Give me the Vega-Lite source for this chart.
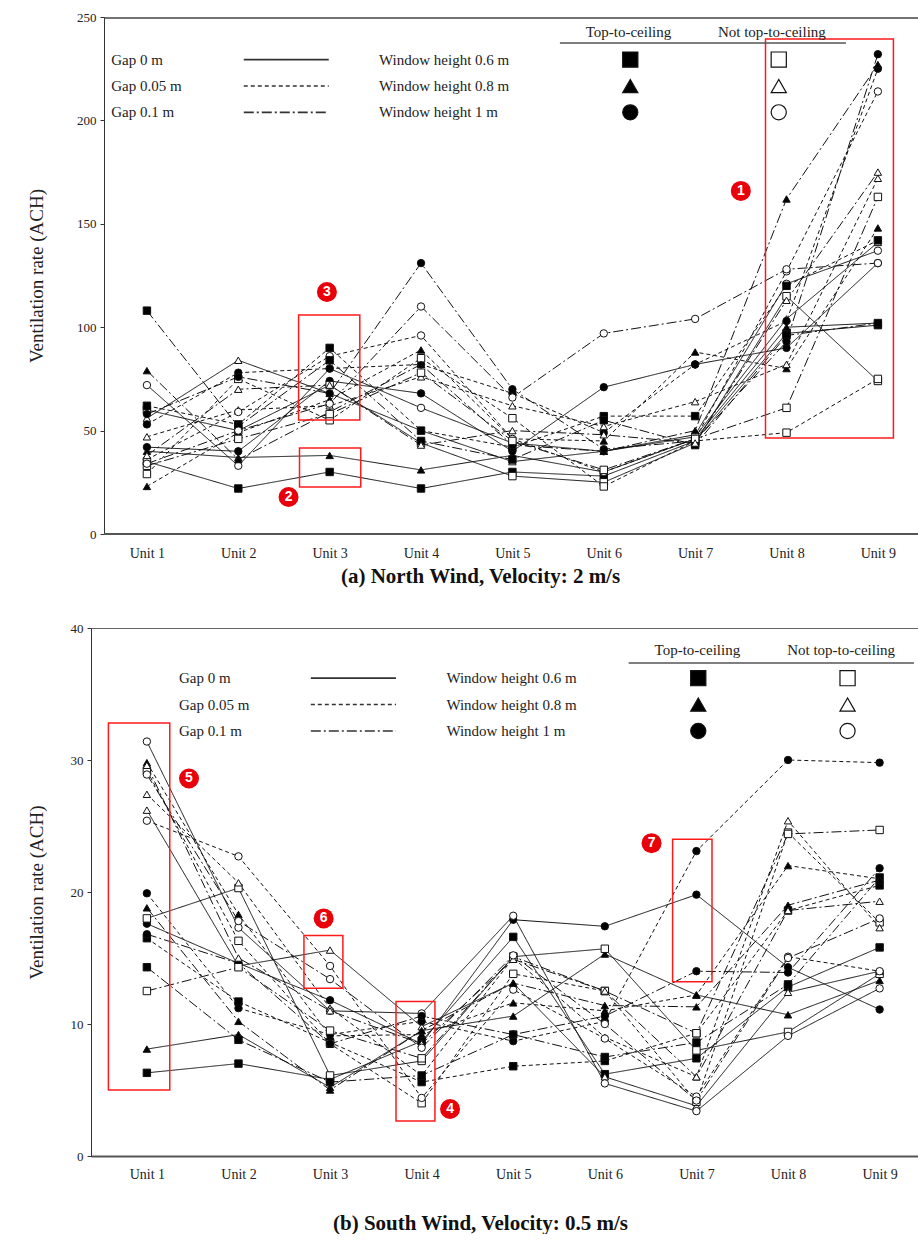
{
  "$schema": "https://vega.github.io/schema/vega-lite/v6.json",
  "background": "white",
  "padding": {"left": 26, "top": 11, "right": 0, "bottom": 0},
  "columns": 1,
  "spacing": 35,
  "config": {
    "view": {"stroke": "#666", "strokeWidth": 1},
    "font": "Liberation Serif",
    "legend": {"disable": true},
    "axisY": {"labelFont": "Liberation Serif", "labelFontSize": 13, "labelColor": "#222", "tickColor": "#333", "tickSize": 4, "labelPadding": 4, "titleFont": "Liberation Serif", "titleFontSize": 19, "titleFontWeight": "normal", "titleColor": "#222", "grid": false, "domainColor": "#333"},
    "axisX": {"labelFont": "Liberation Serif", "labelFontSize": 14, "labelColor": "#222", "ticks": false, "grid": false, "domainColor": "#555", "domainWidth": 2, "labelFlush": false, "titleFont": "Liberation Serif", "titleFontSize": 21, "titleFontWeight": "bold", "titleColor": "#111", "titleX": 389}
  },
  "datasets": {
    "series": [
      {"s": 1, "g": "0", "w": "0.6", "t": "T"}, {"s": 2, "g": "0", "w": "0.8", "t": "T"}, {"s": 3, "g": "0", "w": "1", "t": "T"},
      {"s": 4, "g": "0", "w": "0.6", "t": "N"}, {"s": 5, "g": "0", "w": "0.8", "t": "N"}, {"s": 6, "g": "0", "w": "1", "t": "N"},
      {"s": 7, "g": "0.05", "w": "0.6", "t": "T"}, {"s": 8, "g": "0.05", "w": "0.8", "t": "T"}, {"s": 9, "g": "0.05", "w": "1", "t": "T"},
      {"s": 10, "g": "0.05", "w": "0.6", "t": "N"}, {"s": 11, "g": "0.05", "w": "0.8", "t": "N"}, {"s": 12, "g": "0.05", "w": "1", "t": "N"},
      {"s": 13, "g": "0.1", "w": "0.6", "t": "T"}, {"s": 14, "g": "0.1", "w": "0.8", "t": "T"}, {"s": 15, "g": "0.1", "w": "1", "t": "T"},
      {"s": 16, "g": "0.1", "w": "0.6", "t": "N"}, {"s": 17, "g": "0.1", "w": "0.8", "t": "N"}, {"s": 18, "g": "0.1", "w": "1", "t": "N"}
    ],
    "north": [
      {"s":1,"u":1,"v":35},{"s":1,"u":2,"v":22},{"s":1,"u":3,"v":30},{"s":1,"u":4,"v":22},{"s":1,"u":5,"v":30},{"s":1,"u":6,"v":28},{"s":1,"u":7,"v":45},{"s":1,"u":8,"v":97},{"s":1,"u":9,"v":101},
      {"s":2,"u":1,"v":40},{"s":2,"u":2,"v":37},{"s":2,"u":3,"v":38},{"s":2,"u":4,"v":31},{"s":2,"u":5,"v":38},{"s":2,"u":6,"v":30},{"s":2,"u":7,"v":46},{"s":2,"u":8,"v":100},{"s":2,"u":9,"v":102},
      {"s":3,"u":1,"v":42},{"s":3,"u":2,"v":40},{"s":3,"u":3,"v":74},{"s":3,"u":4,"v":68},{"s":3,"u":5,"v":40},{"s":3,"u":6,"v":71},{"s":3,"u":7,"v":82},{"s":3,"u":8,"v":90},{"s":3,"u":9,"v":131},
      {"s":4,"u":1,"v":60},{"s":4,"u":2,"v":50},{"s":4,"u":3,"v":72},{"s":4,"u":4,"v":44},{"s":4,"u":5,"v":28},{"s":4,"u":6,"v":25},{"s":4,"u":7,"v":44},{"s":4,"u":8,"v":115},{"s":4,"u":9,"v":74},
      {"s":5,"u":1,"v":56},{"s":5,"u":2,"v":84},{"s":5,"u":3,"v":68},{"s":5,"u":4,"v":50},{"s":5,"u":5,"v":35},{"s":5,"u":6,"v":40},{"s":5,"u":7,"v":47},{"s":5,"u":8,"v":104},{"s":5,"u":9,"v":141},
      {"s":6,"u":1,"v":72},{"s":6,"u":2,"v":33},{"s":6,"u":3,"v":80},{"s":6,"u":4,"v":61},{"s":6,"u":5,"v":44},{"s":6,"u":6,"v":40},{"s":6,"u":7,"v":48},{"s":6,"u":8,"v":121},{"s":6,"u":9,"v":137},
      {"s":7,"u":1,"v":62},{"s":7,"u":2,"v":53},{"s":7,"u":3,"v":90},{"s":7,"u":4,"v":50},{"s":7,"u":5,"v":42},{"s":7,"u":6,"v":57},{"s":7,"u":7,"v":57},{"s":7,"u":8,"v":120},{"s":7,"u":9,"v":142},
      {"s":8,"u":1,"v":23},{"s":8,"u":2,"v":49},{"s":8,"u":3,"v":65},{"s":8,"u":4,"v":89},{"s":8,"u":5,"v":46},{"s":8,"u":6,"v":45},{"s":8,"u":7,"v":88},{"s":8,"u":8,"v":80},{"s":8,"u":9,"v":148},
      {"s":9,"u":1,"v":53},{"s":9,"u":2,"v":78},{"s":9,"u":3,"v":80},{"s":9,"u":4,"v":82},{"s":9,"u":5,"v":68},{"s":9,"u":6,"v":49},{"s":9,"u":7,"v":82},{"s":9,"u":8,"v":103},{"s":9,"u":9,"v":225},
      {"s":10,"u":1,"v":29},{"s":10,"u":2,"v":75},{"s":10,"u":3,"v":55},{"s":10,"u":4,"v":85},{"s":10,"u":5,"v":56},{"s":10,"u":6,"v":23},{"s":10,"u":7,"v":45},{"s":10,"u":8,"v":49},{"s":10,"u":9,"v":75},
      {"s":11,"u":1,"v":47},{"s":11,"u":2,"v":60},{"s":11,"u":3,"v":62},{"s":11,"u":4,"v":76},{"s":11,"u":5,"v":62},{"s":11,"u":6,"v":52},{"s":11,"u":7,"v":64},{"s":11,"u":8,"v":82},{"s":11,"u":9,"v":172},
      {"s":12,"u":1,"v":36},{"s":12,"u":2,"v":59},{"s":12,"u":3,"v":86},{"s":12,"u":4,"v":96},{"s":12,"u":5,"v":46},{"s":12,"u":6,"v":30},{"s":12,"u":7,"v":46},{"s":12,"u":8,"v":127},{"s":12,"u":9,"v":214},
      {"s":13,"u":1,"v":108},{"s":13,"u":2,"v":52},{"s":13,"u":3,"v":84},{"s":13,"u":4,"v":45},{"s":13,"u":5,"v":36},{"s":13,"u":6,"v":55},{"s":13,"u":7,"v":43},{"s":13,"u":8,"v":96},{"s":13,"u":9,"v":102},
      {"s":14,"u":1,"v":79},{"s":14,"u":2,"v":36},{"s":14,"u":3,"v":59},{"s":14,"u":4,"v":82},{"s":14,"u":5,"v":43},{"s":14,"u":6,"v":40},{"s":14,"u":7,"v":50},{"s":14,"u":8,"v":162},{"s":14,"u":9,"v":227},
      {"s":15,"u":1,"v":58},{"s":15,"u":2,"v":76},{"s":15,"u":3,"v":68},{"s":15,"u":4,"v":131},{"s":15,"u":5,"v":70},{"s":15,"u":6,"v":41},{"s":15,"u":7,"v":45},{"s":15,"u":8,"v":93},{"s":15,"u":9,"v":232},
      {"s":16,"u":1,"v":33},{"s":16,"u":2,"v":46},{"s":16,"u":3,"v":58},{"s":16,"u":4,"v":78},{"s":16,"u":5,"v":45},{"s":16,"u":6,"v":31},{"s":16,"u":7,"v":46},{"s":16,"u":8,"v":61},{"s":16,"u":9,"v":163},
      {"s":17,"u":1,"v":38},{"s":17,"u":2,"v":70},{"s":17,"u":3,"v":72},{"s":17,"u":4,"v":43},{"s":17,"u":5,"v":50},{"s":17,"u":6,"v":48},{"s":17,"u":7,"v":44},{"s":17,"u":8,"v":113},{"s":17,"u":9,"v":175},
      {"s":18,"u":1,"v":34},{"s":18,"u":2,"v":50},{"s":18,"u":3,"v":63},{"s":18,"u":4,"v":110},{"s":18,"u":5,"v":66},{"s":18,"u":6,"v":97},{"s":18,"u":7,"v":104},{"s":18,"u":8,"v":128},{"s":18,"u":9,"v":131}
    ],
    "south": [
      {"s":1,"u":1,"v":6.3},{"s":1,"u":2,"v":7.0},{"s":1,"u":3,"v":5.8},{"s":1,"u":4,"v":8.7},{"s":1,"u":5,"v":16.6},{"s":1,"u":6,"v":6.2},{"s":1,"u":7,"v":7.4},{"s":1,"u":8,"v":12.8},{"s":1,"u":9,"v":15.8},
      {"s":2,"u":1,"v":8.1},{"s":2,"u":2,"v":9.2},{"s":2,"u":3,"v":5.2},{"s":2,"u":4,"v":9.5},{"s":2,"u":5,"v":10.6},{"s":2,"u":6,"v":15.3},{"s":2,"u":7,"v":12.2},{"s":2,"u":8,"v":10.7},{"s":2,"u":9,"v":13.3},
      {"s":3,"u":1,"v":17.6},{"s":3,"u":2,"v":14.6},{"s":3,"u":3,"v":11.8},{"s":3,"u":4,"v":8.5},{"s":3,"u":5,"v":17.9},{"s":3,"u":6,"v":17.4},{"s":3,"u":7,"v":19.8},{"s":3,"u":8,"v":14.3},{"s":3,"u":9,"v":11.1},
      {"s":4,"u":1,"v":18.0},{"s":4,"u":2,"v":20.3},{"s":4,"u":3,"v":6.1},{"s":4,"u":4,"v":7.2},{"s":4,"u":5,"v":15.1},{"s":4,"u":6,"v":15.7},{"s":4,"u":7,"v":8.0},{"s":4,"u":8,"v":9.4},{"s":4,"u":9,"v":13.8},
      {"s":5,"u":1,"v":26.2},{"s":5,"u":2,"v":14.4},{"s":5,"u":3,"v":15.6},{"s":5,"u":4,"v":9.8},{"s":5,"u":5,"v":13.1},{"s":5,"u":6,"v":6.0},{"s":5,"u":7,"v":3.8},{"s":5,"u":8,"v":12.4},{"s":5,"u":9,"v":14.0},
      {"s":6,"u":1,"v":31.4},{"s":6,"u":2,"v":17.3},{"s":6,"u":3,"v":11.0},{"s":6,"u":4,"v":10.8},{"s":6,"u":5,"v":18.2},{"s":6,"u":6,"v":5.5},{"s":6,"u":7,"v":3.4},{"s":6,"u":8,"v":9.1},{"s":6,"u":9,"v":12.7},
      {"s":7,"u":1,"v":16.5},{"s":7,"u":2,"v":11.7},{"s":7,"u":3,"v":8.6},{"s":7,"u":4,"v":5.6},{"s":7,"u":5,"v":6.8},{"s":7,"u":6,"v":7.2},{"s":7,"u":7,"v":9.3},{"s":7,"u":8,"v":18.6},{"s":7,"u":9,"v":20.5},
      {"s":8,"u":1,"v":29.8},{"s":8,"u":2,"v":18.3},{"s":8,"u":3,"v":9.1},{"s":8,"u":4,"v":9.2},{"s":8,"u":5,"v":11.6},{"s":8,"u":6,"v":11.0},{"s":8,"u":7,"v":12.2},{"s":8,"u":8,"v":22.0},{"s":8,"u":9,"v":21.0},
      {"s":9,"u":1,"v":19.9},{"s":9,"u":2,"v":11.2},{"s":9,"u":3,"v":9.2},{"s":9,"u":4,"v":10.2},{"s":9,"u":5,"v":8.7},{"s":9,"u":6,"v":10.2},{"s":9,"u":7,"v":23.1},{"s":9,"u":8,"v":30.0},{"s":9,"u":9,"v":29.8},
      {"s":10,"u":1,"v":29.2},{"s":10,"u":2,"v":16.3},{"s":10,"u":3,"v":8.5},{"s":10,"u":4,"v":4.0},{"s":10,"u":5,"v":13.8},{"s":10,"u":6,"v":12.5},{"s":10,"u":7,"v":4.1},{"s":10,"u":8,"v":24.5},{"s":10,"u":9,"v":17.7},
      {"s":11,"u":1,"v":27.4},{"s":11,"u":2,"v":20.7},{"s":11,"u":3,"v":11.2},{"s":11,"u":4,"v":6.1},{"s":11,"u":5,"v":15.0},{"s":11,"u":6,"v":9.0},{"s":11,"u":7,"v":6.0},{"s":11,"u":8,"v":25.4},{"s":11,"u":9,"v":17.3},
      {"s":12,"u":1,"v":25.4},{"s":12,"u":2,"v":22.7},{"s":12,"u":3,"v":14.4},{"s":12,"u":4,"v":4.4},{"s":12,"u":5,"v":12.6},{"s":12,"u":6,"v":8.9},{"s":12,"u":7,"v":4.5},{"s":12,"u":8,"v":15.1},{"s":12,"u":9,"v":14.0},
      {"s":13,"u":1,"v":14.3},{"s":13,"u":2,"v":8.8},{"s":13,"u":3,"v":5.6},{"s":13,"u":4,"v":6.1},{"s":13,"u":5,"v":9.2},{"s":13,"u":6,"v":7.5},{"s":13,"u":7,"v":8.6},{"s":13,"u":8,"v":13.0},{"s":13,"u":9,"v":21.1},
      {"s":14,"u":1,"v":18.8},{"s":14,"u":2,"v":10.2},{"s":14,"u":3,"v":5.0},{"s":14,"u":4,"v":9.5},{"s":14,"u":5,"v":13.1},{"s":14,"u":6,"v":11.4},{"s":14,"u":7,"v":11.3},{"s":14,"u":8,"v":19.0},{"s":14,"u":9,"v":20.9},
      {"s":15,"u":1,"v":16.8},{"s":15,"u":2,"v":14.6},{"s":15,"u":3,"v":8.5},{"s":15,"u":4,"v":10.6},{"s":15,"u":5,"v":9.2},{"s":15,"u":6,"v":10.6},{"s":15,"u":7,"v":14.0},{"s":15,"u":8,"v":13.9},{"s":15,"u":9,"v":21.8},
      {"s":16,"u":1,"v":12.5},{"s":16,"u":2,"v":14.3},{"s":16,"u":3,"v":9.5},{"s":16,"u":4,"v":7.4},{"s":16,"u":5,"v":15.1},{"s":16,"u":6,"v":12.5},{"s":16,"u":7,"v":9.3},{"s":16,"u":8,"v":24.4},{"s":16,"u":9,"v":24.7},
      {"s":17,"u":1,"v":29.6},{"s":17,"u":2,"v":15.0},{"s":17,"u":3,"v":11.0},{"s":17,"u":4,"v":8.5},{"s":17,"u":5,"v":14.9},{"s":17,"u":6,"v":12.5},{"s":17,"u":7,"v":6.0},{"s":17,"u":8,"v":18.6},{"s":17,"u":9,"v":19.3},
      {"s":18,"u":1,"v":28.9},{"s":18,"u":2,"v":17.8},{"s":18,"u":3,"v":13.4},{"s":18,"u":4,"v":8.2},{"s":18,"u":5,"v":15.2},{"s":18,"u":6,"v":10.0},{"s":18,"u":7,"v":4.2},{"s":18,"u":8,"v":15.0},{"s":18,"u":9,"v":18.0}
    ]
  },
  "concat": [
    {
      "width": 828,
      "height": 517,
      "view": {"stroke": null},
      "layer": [
        {
          "data": {"name": "north"},
          "transform": [{"lookup": "s", "from": {"data": {"name": "series"}, "key": "s", "fields": ["g", "w", "t"]}}],
          "mark": {"type": "line", "color": "#111", "strokeWidth": 1},
          "encoding": {
            "x": {"field": "u", "type": "quantitative", "scale": {"domain": [0.388, 9.45], "nice": false, "zero": false}, "axis": {"values": [1,2,3,4,5,6,7,8,9], "labelExpr": "'Unit ' + datum.value", "title": "(a) North Wind, Velocity: 2 m/s", "labelPadding": 12, "titlePadding": 5, "domain": false}},
            "y": {"field": "v", "type": "quantitative", "scale": {"domain": [0, 250], "nice": false}, "axis": {"values": [0,50,100,150,200,250], "title": "Ventilation rate (ACH)", "titlePadding": 30, "offset": -13}},
            "detail": {"field": "s"},
            "strokeDash": {"field": "g", "type": "nominal", "scale": {"domain": ["0", "0.05", "0.1"], "range": [[1, 0], [4, 3], [10, 3, 2, 3]]}}
          }
        },
        {
          "data": {"name": "north"},
          "transform": [{"lookup": "s", "from": {"data": {"name": "series"}, "key": "s", "fields": ["g", "w", "t"]}}],
          "mark": {"type": "point", "filled": true, "stroke": "#111", "strokeWidth": 1, "size": 55, "opacity": 1},
          "encoding": {
            "x": {"field": "u", "type": "quantitative"},
            "y": {"field": "v", "type": "quantitative"},
            "shape": {"field": "w", "type": "nominal", "scale": {"domain": ["0.6", "0.8", "1"], "range": ["square", "triangle-up", "circle"]}},
            "fill": {"field": "t", "type": "nominal", "scale": {"domain": ["T", "N"], "range": ["#000000", "#ffffff"]}}
          }
        },
        {
          "data": {"values": [{"fx": 0.53, "fx2": 9.45, "fy": 249.5}]},
          "mark": {"type": "rule", "color": "#444", "strokeWidth": 1.5},
          "encoding": {"x": {"field": "fx", "type": "quantitative"}, "x2": {"field": "fx2"}, "y": {"field": "fy", "type": "quantitative"}}
        },
        {
          "data": {"values": [{"fx": 0.53, "fx2": 9.45, "fy": 0}]},
          "mark": {"type": "rule", "color": "#555", "strokeWidth": 2},
          "encoding": {"x": {"field": "fx", "type": "quantitative"}, "x2": {"field": "fx2"}, "y": {"field": "fy", "type": "quantitative"}}
        },
        {"mark": {"type": "rule", "color": "#1f7bd6", "strokeWidth": 3, "strokeDash": [3, 3]}, "encoding": {"x": {"datum": 0.53}, "x2": {"datum": 9.45}, "y": {"datum": 42.5}}},
        {"mark": {"type": "rule", "color": "#ff1f1f", "strokeWidth": 3, "strokeDash": [3, 3]}, "encoding": {"x": {"datum": 0.53}, "x2": {"datum": 9.45}, "y": {"datum": 8.9}}},
        {
          "data": {"values": [{"x1": 7.77, "x2": 9.17, "y1": 46.4, "y2": 239.4}, {"x1": 2.66, "x2": 3.33, "y1": 55.1, "y2": 105.9}, {"x1": 2.67, "x2": 3.34, "y1": 22.7, "y2": 41.6}]},
          "mark": {"type": "rect", "fill": "transparent", "stroke": "#ff1a1a", "strokeWidth": 1.5},
          "encoding": {"x": {"field": "x1", "type": "quantitative"}, "x2": {"field": "x2"}, "y": {"field": "y1", "type": "quantitative"}, "y2": {"field": "y2"}}
        },
        {
          "data": {"values": [{"n": "1", "x": 7.5, "y": 165.9}, {"n": "3", "x": 2.97, "y": 117}, {"n": "2", "x": 2.55, "y": 17.9}]},
          "layer": [
            {"mark": {"type": "point", "shape": "circle", "filled": true, "color": "#e8000b", "size": 400, "opacity": 1}, "encoding": {"x": {"field": "x", "type": "quantitative"}, "y": {"field": "y", "type": "quantitative"}}},
            {"mark": {"type": "text", "color": "white", "font": "Liberation Sans", "fontWeight": "bold", "fontSize": 14, "baseline": "middle", "align": "center"}, "encoding": {"x": {"field": "x", "type": "quantitative"}, "y": {"field": "y", "type": "quantitative"}, "text": {"field": "n"}}}
          ]
        },
        {
          "data": {"values": [{"label": "Gap 0 m", "x": 0.61, "y": 229.4}, {"label": "Gap 0.05 m", "x": 0.61, "y": 216.6}, {"label": "Gap 0.1 m", "x": 0.61, "y": 203.9}, {"label": "Window height 0.6 m", "x": 3.54, "y": 229.4}, {"label": "Window height 0.8 m", "x": 3.54, "y": 216.6}, {"label": "Window height 1 m", "x": 3.54, "y": 203.9}]},
          "mark": {"type": "text", "align": "left", "baseline": "middle", "font": "Liberation Serif", "fontSize": 15, "color": "#222"},
          "encoding": {"x": {"field": "x", "type": "quantitative"}, "y": {"field": "y", "type": "quantitative"}, "text": {"field": "label"}}
        },
        {
          "data": {"values": [{"label": "Top-to-ceiling", "x": 6.27, "y": 242.7}, {"label": "Not top-to-ceiling", "x": 7.84, "y": 242.7}]},
          "mark": {"type": "text", "align": "center", "baseline": "middle", "font": "Liberation Serif", "fontSize": 15, "color": "#222"},
          "encoding": {"x": {"field": "x", "type": "quantitative"}, "y": {"field": "y", "type": "quantitative"}, "text": {"field": "label"}}
        },
        {
          "data": {"values": [{"x": 5.52, "x2": 8.65, "y": 237.4}]},
          "mark": {"type": "rule", "color": "#555", "strokeWidth": 1.5},
          "encoding": {"x": {"field": "x", "type": "quantitative"}, "x2": {"field": "x2"}, "y": {"field": "y", "type": "quantitative"}}
        },
        {
          "data": {"values": [{"g": "0", "x": 2.06, "x2": 2.99, "y": 229.4}, {"g": "0.05", "x": 2.06, "x2": 2.99, "y": 216.6}, {"g": "0.1", "x": 2.06, "x2": 2.99, "y": 203.9}]},
          "mark": {"type": "rule", "color": "#333", "strokeWidth": 1.6},
          "encoding": {"x": {"field": "x", "type": "quantitative"}, "x2": {"field": "x2"}, "y": {"field": "y", "type": "quantitative"}, "strokeDash": {"field": "g", "type": "nominal"}}
        },
        {
          "data": {"values": [{"w": "0.6", "t": "T", "x": 6.29, "y": 229.4}, {"w": "0.8", "t": "T", "x": 6.29, "y": 216.6}, {"w": "1", "t": "T", "x": 6.29, "y": 203.9}, {"w": "0.6", "t": "N", "x": 7.915, "y": 229.4}, {"w": "0.8", "t": "N", "x": 7.915, "y": 216.6}, {"w": "1", "t": "N", "x": 7.915, "y": 203.9}]},
          "mark": {"type": "point", "filled": true, "stroke": "#111", "strokeWidth": 1.2, "size": 230, "opacity": 1},
          "encoding": {"x": {"field": "x", "type": "quantitative"}, "y": {"field": "y", "type": "quantitative"}, "shape": {"field": "w", "type": "nominal"}, "fill": {"field": "t", "type": "nominal"}}
        }
      ]
    },
    {
      "width": 828,
      "height": 528,
      "layer": [
        {
          "data": {"name": "south"},
          "transform": [{"lookup": "s", "from": {"data": {"name": "series"}, "key": "s", "fields": ["g", "w", "t"]}}],
          "mark": {"type": "line", "color": "#111", "strokeWidth": 1},
          "encoding": {
            "x": {"field": "u", "type": "quantitative", "scale": {"domain": [0.39, 9.43], "nice": false, "zero": false}, "axis": {"values": [1,2,3,4,5,6,7,8,9], "labelExpr": "'Unit ' + datum.value", "title": "(b) South Wind, Velocity: 0.5 m/s", "labelPadding": 11, "titlePadding": 31}},
            "y": {"field": "v", "type": "quantitative", "scale": {"domain": [0, 40], "nice": false}, "axis": {"values": [0,10,20,30,40], "title": "Ventilation rate (ACH)", "titlePadding": 24}},
            "detail": {"field": "s"},
            "strokeDash": {"field": "g", "type": "nominal", "scale": {"domain": ["0", "0.05", "0.1"], "range": [[1, 0], [4, 3], [10, 3, 2, 3]]}}
          }
        },
        {
          "data": {"name": "south"},
          "transform": [{"lookup": "s", "from": {"data": {"name": "series"}, "key": "s", "fields": ["g", "w", "t"]}}],
          "mark": {"type": "point", "filled": true, "stroke": "#111", "strokeWidth": 1, "size": 55, "opacity": 1},
          "encoding": {
            "x": {"field": "u", "type": "quantitative"},
            "y": {"field": "v", "type": "quantitative"},
            "shape": {"field": "w", "type": "nominal", "scale": {"domain": ["0.6", "0.8", "1"], "range": ["square", "triangle-up", "circle"]}},
            "fill": {"field": "t", "type": "nominal", "scale": {"domain": ["T", "N"], "range": ["#000000", "#ffffff"]}}
          }
        },
        {"mark": {"type": "rule", "color": "#ff1f1f", "strokeWidth": 3, "strokeDash": [3, 3]}, "encoding": {"y": {"datum": 12.2}}},
        {
          "data": {"values": [{"x1": 0.58, "x2": 1.25, "y1": 5.0, "y2": 32.8}, {"x1": 2.715, "x2": 3.14, "y1": 12.7, "y2": 16.7}, {"x1": 3.72, "x2": 4.145, "y1": 2.65, "y2": 11.7}, {"x1": 6.74, "x2": 7.17, "y1": 13.2, "y2": 24.0}]},
          "mark": {"type": "rect", "fill": "transparent", "stroke": "#ff1a1a", "strokeWidth": 1.5},
          "encoding": {"x": {"field": "x1", "type": "quantitative"}, "x2": {"field": "x2"}, "y": {"field": "y1", "type": "quantitative"}, "y2": {"field": "y2"}}
        },
        {
          "data": {"values": [{"n": "5", "x": 1.46, "y": 28.6}, {"n": "6", "x": 2.93, "y": 18.0}, {"n": "4", "x": 4.31, "y": 3.56}, {"n": "7", "x": 6.51, "y": 23.7}]},
          "layer": [
            {"mark": {"type": "point", "shape": "circle", "filled": true, "color": "#e8000b", "size": 400, "opacity": 1}, "encoding": {"x": {"field": "x", "type": "quantitative"}, "y": {"field": "y", "type": "quantitative"}}},
            {"mark": {"type": "text", "color": "white", "font": "Liberation Sans", "fontWeight": "bold", "fontSize": 14, "baseline": "middle", "align": "center"}, "encoding": {"x": {"field": "x", "type": "quantitative"}, "y": {"field": "y", "type": "quantitative"}, "text": {"field": "n"}}}
          ]
        },
        {
          "data": {"values": [{"label": "Gap 0 m", "x": 1.35, "y": 36.2}, {"label": "Gap 0.05 m", "x": 1.35, "y": 34.2}, {"label": "Gap 0.1 m", "x": 1.35, "y": 32.2}, {"label": "Window height 0.6 m", "x": 4.27, "y": 36.2}, {"label": "Window height 0.8 m", "x": 4.27, "y": 34.2}, {"label": "Window height 1 m", "x": 4.27, "y": 32.2}]},
          "mark": {"type": "text", "align": "left", "baseline": "middle", "font": "Liberation Serif", "fontSize": 15, "color": "#222"},
          "encoding": {"x": {"field": "x", "type": "quantitative"}, "y": {"field": "y", "type": "quantitative"}, "text": {"field": "label"}}
        },
        {
          "data": {"values": [{"label": "Top-to-ceiling", "x": 7.01, "y": 38.3}, {"label": "Not top-to-ceiling", "x": 8.58, "y": 38.3}]},
          "mark": {"type": "text", "align": "center", "baseline": "middle", "font": "Liberation Serif", "fontSize": 15, "color": "#222"},
          "encoding": {"x": {"field": "x", "type": "quantitative"}, "y": {"field": "y", "type": "quantitative"}, "text": {"field": "label"}}
        },
        {
          "data": {"values": [{"x": 6.26, "x2": 9.375, "y": 37.35}]},
          "mark": {"type": "rule", "color": "#555", "strokeWidth": 1.5},
          "encoding": {"x": {"field": "x", "type": "quantitative"}, "x2": {"field": "x2"}, "y": {"field": "y", "type": "quantitative"}}
        },
        {
          "data": {"values": [{"g": "0", "x": 2.79, "x2": 3.72, "y": 36.2}, {"g": "0.05", "x": 2.79, "x2": 3.72, "y": 34.2}, {"g": "0.1", "x": 2.79, "x2": 3.72, "y": 32.2}]},
          "mark": {"type": "rule", "color": "#333", "strokeWidth": 1.6},
          "encoding": {"x": {"field": "x", "type": "quantitative"}, "x2": {"field": "x2"}, "y": {"field": "y", "type": "quantitative"}, "strokeDash": {"field": "g", "type": "nominal"}}
        },
        {
          "data": {"values": [{"w": "0.6", "t": "T", "x": 7.02, "y": 36.2}, {"w": "0.8", "t": "T", "x": 7.02, "y": 34.2}, {"w": "1", "t": "T", "x": 7.02, "y": 32.2}, {"w": "0.6", "t": "N", "x": 8.65, "y": 36.2}, {"w": "0.8", "t": "N", "x": 8.65, "y": 34.2}, {"w": "1", "t": "N", "x": 8.65, "y": 32.2}]},
          "mark": {"type": "point", "filled": true, "stroke": "#111", "strokeWidth": 1.2, "size": 230, "opacity": 1},
          "encoding": {"x": {"field": "x", "type": "quantitative"}, "y": {"field": "y", "type": "quantitative"}, "shape": {"field": "w", "type": "nominal"}, "fill": {"field": "t", "type": "nominal"}}
        }
      ]
    }
  ]
}
